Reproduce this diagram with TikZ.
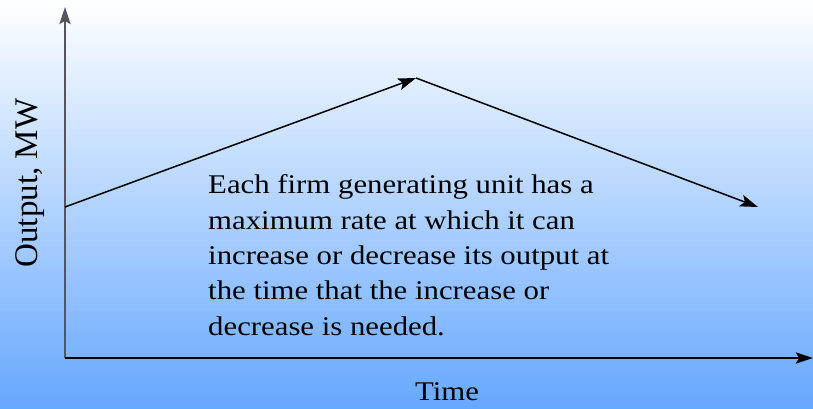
\documentclass[tikz,border=0pt]{standalone}
\usepackage{fontspec}
\setmainfont{Liberation Serif}
\newfontfamily\slidefont[FakeStretch=1.14]{Liberation Serif}
\usetikzlibrary{positioning,arrows.meta}
\definecolor{skyfill}{RGB}{102,168,255}
\definecolor{axisgray}{RGB}{85,85,95}

\begin{document}
\begin{tikzpicture}[x=1pt,y=1pt,
    lbl/.style={font=\slidefont\fontsize{27}{35.3}\selectfont,inner sep=0pt},
    ramp/.style={-{Stealth[length=18pt,width=12pt,inset=4pt]},line width=1.5pt},
    axis/.style={-{Stealth[length=17pt,width=11pt,inset=3pt]},line width=2.4pt},
]
\shade[top color=white,bottom color=skyfill] (0,0) rectangle (813,408);
\useasboundingbox (0,0) rectangle (813,408);
\coordinate (o) at (65,50);
\coordinate (ytop) at (65,401);
\coordinate (xend) at (813,50);
\coordinate (start) at (65,201);
\coordinate (peak) at (416,330);
\coordinate (fin) at (758,201);
\draw[axis,axisgray] (o) -- (ytop);
\draw[axis] (o) -- (xend);
\draw[ramp] (start) -- (peak);
\draw[ramp] (peak) -- (fin);
\node[lbl,anchor=base] (time) at (447,8) {Time};
\node[font=\fontsize{33}{36}\selectfont,inner sep=0pt,rotate=90,anchor=base] (output) at (37,225) {Output, MW};
\node[lbl,anchor=base west,align=left] (note) at (208,73)
  {Each firm generating unit has a\\maximum rate at which it can\\increase or decrease its output at\\the time that the increase or\\decrease is needed.};
\end{tikzpicture}
\end{document}
